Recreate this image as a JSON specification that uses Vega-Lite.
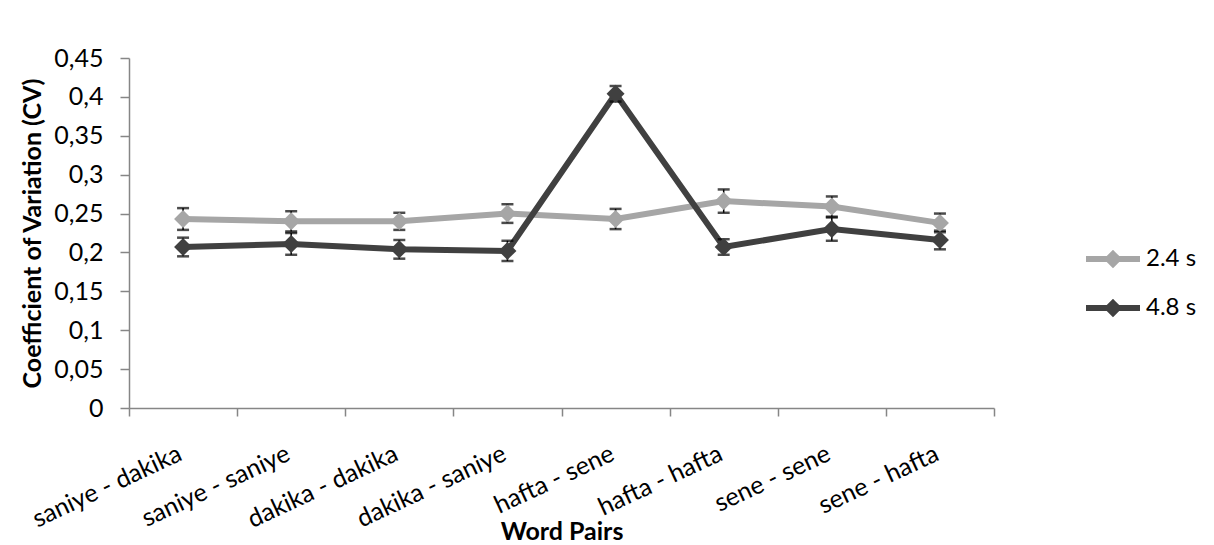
{
  "$schema": "https://vega.github.io/schema/vega-lite/v6.json",
  "width": 865,
  "height": 350,
  "autosize": {"type": "none"},
  "padding": {"left": 129, "top": 58, "right": 220, "bottom": 137},
  "background": "white",
  "data": {
    "values": [
      {"pair": "saniye - dakika", "series": "2.4 s", "cv": 0.243, "err": 0.014},
      {"pair": "saniye - saniye", "series": "2.4 s", "cv": 0.240, "err": 0.013},
      {"pair": "dakika - dakika", "series": "2.4 s", "cv": 0.240, "err": 0.011},
      {"pair": "dakika - saniye", "series": "2.4 s", "cv": 0.250, "err": 0.012},
      {"pair": "hafta - sene", "series": "2.4 s", "cv": 0.243, "err": 0.013},
      {"pair": "hafta - hafta", "series": "2.4 s", "cv": 0.266, "err": 0.015},
      {"pair": "sene - sene", "series": "2.4 s", "cv": 0.259, "err": 0.013},
      {"pair": "sene - hafta", "series": "2.4 s", "cv": 0.238, "err": 0.012},
      {"pair": "saniye - dakika", "series": "4.8 s", "cv": 0.207, "err": 0.012},
      {"pair": "saniye - saniye", "series": "4.8 s", "cv": 0.211, "err": 0.014},
      {"pair": "dakika - dakika", "series": "4.8 s", "cv": 0.204, "err": 0.012},
      {"pair": "dakika - saniye", "series": "4.8 s", "cv": 0.202, "err": 0.013},
      {"pair": "hafta - sene", "series": "4.8 s", "cv": 0.404, "err": 0.010},
      {"pair": "hafta - hafta", "series": "4.8 s", "cv": 0.207, "err": 0.010},
      {"pair": "sene - sene", "series": "4.8 s", "cv": 0.230, "err": 0.015},
      {"pair": "sene - hafta", "series": "4.8 s", "cv": 0.216, "err": 0.012}
    ]
  },
  "encoding": {
    "x": {
      "field": "pair",
      "type": "nominal",
      "sort": null,
      "scale": {"type": "band", "paddingInner": 0, "paddingOuter": 0},
      "axis": {
        "title": "Word Pairs",
        "titleFont": "Lato",
        "titleFontSize": 25,
        "titleFontWeight": "bold",
        "titleColor": "black",
        "titleBaseline": "alphabetic",
        "titleY": 131,
        "labelFont": "Lato",
        "labelFontSize": 25,
        "labelColor": "black",
        "labelAngle": -25,
        "labelAlign": "right",
        "labelBaseline": "alphabetic",
        "labelPadding": 43,
        "tickBand": "extent",
        "tickSize": 8,
        "tickColor": "#868686",
        "domainColor": "#868686",
        "domainWidth": 1.5,
        "tickWidth": 1.5,
        "grid": false
      }
    },
    "y": {
      "field": "cv",
      "type": "quantitative",
      "scale": {"domain": [0, 0.45], "nice": false},
      "axis": {
        "title": "Coefficient of Variation (CV)",
        "titleFont": "Lato",
        "titleFontSize": 25,
        "titleFontWeight": "bold",
        "titleColor": "black",
        "titlePadding": 8,
        "labelFont": "Lato",
        "labelFontSize": 25,
        "labelColor": "black",
        "labelPadding": 17,
        "values": [0, 0.05, 0.1, 0.15, 0.2, 0.25, 0.3, 0.35, 0.4, 0.45],
        "labelExpr": "replace(format(datum.value, '~g'), '.', ',')",
        "tickSize": 9,
        "tickColor": "#868686",
        "domainColor": "#868686",
        "domainWidth": 1.5,
        "tickWidth": 1.5,
        "grid": false
      }
    }
  },
  "layer": [
    {
      "mark": {"type": "line", "strokeWidth": 6},
      "encoding": {
        "color": {
          "field": "series",
          "type": "nominal",
          "scale": {"domain": ["2.4 s", "4.8 s"], "range": ["#A6A6A6", "#404040"]},
          "legend": {
            "title": null,
            "orient": "none",
            "legendX": 961,
            "legendY": 178,
            "padding": 0,
            "rowPadding": 9,
            "symbolType": "M-1.35,0L1.35,0M0,-0.25L0.25,0L0,0.25L-0.25,0Z",
            "symbolSize": 1600,
            "symbolStrokeWidth": 6,
            "labelOffset": 10,
            "labelFont": "Lato",
            "labelFontSize": 24,
            "labelColor": "black",
            "encode": {
              "symbols": {
                "update": {
                  "stroke": {"scale": "color", "field": "value"},
                  "fill": {"scale": "color", "field": "value"},
                  "strokeWidth": {"value": 6},
                  "opacity": {"value": 1}
                }
              }
            }
          }
        }
      }
    },
    {
      "mark": {"type": "errorbar", "ticks": {"size": 12, "thickness": 2.5}, "rule": {"strokeWidth": 1.5}, "color": "black"},
      "encoding": {
        "yError": {"field": "err"},
        "detail": {"field": "series"}
      }
    },
    {
      "mark": {"type": "point", "shape": "diamond", "filled": true, "size": 324, "opacity": 1},
      "encoding": {
        "color": {
          "field": "series",
          "type": "nominal",
          "legend": null
        }
      }
    }
  ],
  "config": {
    "view": {"stroke": null}
  }
}
